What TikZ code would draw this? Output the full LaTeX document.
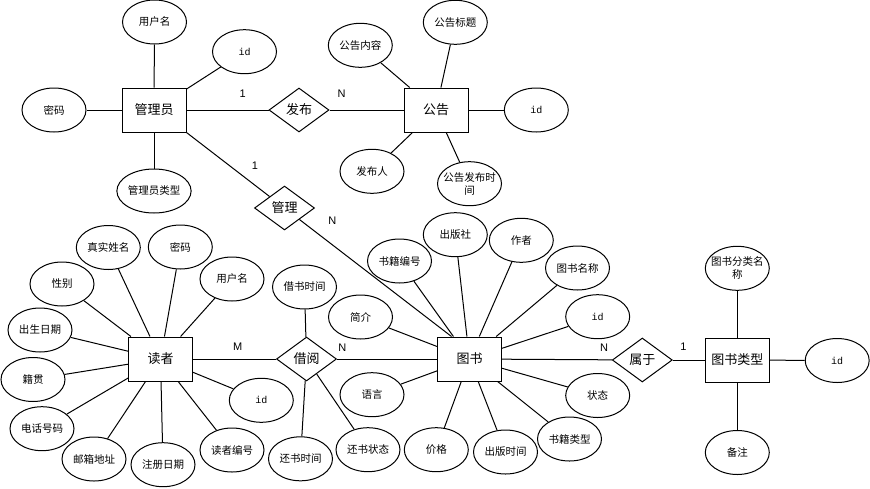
\documentclass[tikz,border=0pt]{standalone}
\usepackage{fontspec}
\setmainfont{Liberation Sans}
\newfontfamily\cjk{Noto Sans CJK SC}
\newfontfamily\monofnt{Liberation Mono}
\usetikzlibrary{shapes.geometric}
\tikzset{
  ent/.style={draw, rectangle, minimum width=64pt, minimum height=44pt, inner sep=0pt, line width=1pt, font=\cjk\fontsize{13}{15}\selectfont},
  rel/.style={draw, diamond, minimum width=60pt, minimum height=44pt, inner sep=0pt, line width=1pt, font=\cjk\fontsize{13}{15}\selectfont},
  attr/.style={draw, ellipse, minimum width=64pt, minimum height=44pt, inner sep=0pt, line width=1pt, font=\cjk\fontsize{10.5}{12}\selectfont},
  idattr/.style={attr, font=\monofnt\fontsize{10}{12}\selectfont},
  txt/.style={inner sep=0pt, align=center, font=\cjk\fontsize{10.5}{13}\selectfont},
  card/.style={inner sep=0pt, font=\fontsize{11}{13}\selectfont},
  lnk/.style={line width=1pt}
}
\begin{document}
\begin{tikzpicture}[x=1pt,y=-1pt]
\useasboundingbox (0,0) rectangle (870,488);
% admin
\node[ent] (gly) at (154,110) {管理员};
\node[attr] (a1) at (154.5,22) {用户名};
\node[idattr] (a2) at (244.5,51.7) {id};
\node[attr] (a3) at (54,110) {密码};
\node[attr] (a4) at (154,191) {管理员类型};
% notice
\node[ent] (gg) at (436,110) {公告};
\node[attr] (b1) at (455.3,22.3) {公告标题};
\node[attr] (b2) at (360.3,45.3) {公告内容};
\node[idattr] (b3) at (536.3,110) {id};
\node[attr] (b4) at (372,171.3) {发布人};
\node[attr] (b5) at (469.5,183.7) {};
\node[txt] (b5t) at (b5) {公告发布时\\间};
% relations
\node[rel] (fb) at (299,110) {发布};
\node[rel] (gl) at (284.5,208) {管理};
% reader
\node[ent] (dz) at (160.5,359) {读者};
\node[attr] (c1) at (108.3,247.5) {真实姓名};
\node[attr] (c2) at (180.3,247) {密码};
\node[attr] (c3) at (62,284) {性别};
\node[attr] (c4) at (232,279) {用户名};
\node[attr] (c5) at (40,330) {出生日期};
\node[attr] (c6) at (33,379.5) {籍贯};
\node[attr] (c7) at (42,428.7) {电话号码};
\node[attr] (c8) at (94,459) {邮箱地址};
\node[attr] (c9) at (163,464.7) {注册日期};
\node[attr] (c10) at (232,450) {读者编号};
\node[idattr] (c11) at (261.3,400.3) {id};
% borrow
\node[rel] (jy) at (306.5,359) {借阅};
\node[attr] (d1) at (304.5,287) {借书时间};
\node[attr] (d2) at (300.5,458.8) {还书时间};
\node[attr] (d3) at (368,449.7) {还书状态};
% book
\node[ent] (ts) at (469.5,359) {图书};
\node[attr] (e1) at (399.5,261) {书籍编号};
\node[attr] (e2) at (455.3,234.7) {出版社};
\node[attr] (e3) at (521.3,240.3) {作者};
\node[attr] (e4) at (577.5,268) {图书名称};
\node[idattr] (e5) at (597.7,316.7) {id};
\node[attr] (e6) at (360.5,317) {简介};
\node[attr] (e7) at (372,394.7) {语言};
\node[attr] (e8) at (436.3,449.7) {价格};
\node[attr] (e9) at (505.5,452) {出版时间};
\node[attr] (e10) at (569.5,439) {书籍类型};
\node[attr] (e11) at (597.7,395.5) {状态};
% category
\node[rel] (sy) at (642.3,360) {属于};
\node[ent] (lx) at (737.3,360) {图书类型};
\node[attr] (f1) at (737.3,268.3) {};
\node[txt] (f1t) at (f1) {图书分类名\\称};
\node[idattr] (f2) at (837.2,360.5) {id};
\node[attr] (f3) at (737.3,452.5) {备注};
% links
\foreach \a in {a1,a2,a3,a4} \draw[lnk] (gly) -- (\a);
\foreach \a in {b1,b2,b3,b4,b5} \draw[lnk] (gg) -- (\a);
\foreach \a in {c1,c2,c3,c4,c5,c6,c7,c8,c9,c10,c11} \draw[lnk] (dz) -- (\a);
\foreach \a in {d1,d2,d3} \draw[lnk] (jy) -- (\a);
\foreach \a in {e1,e2,e3,e4,e5,e6,e7,e8,e9,e10,e11} \draw[lnk] (ts) -- (\a);
\foreach \a in {f1,f2,f3} \draw[lnk] (lx) -- (\a);
\draw[lnk] (gly) -- (fb);
\draw[lnk] (fb) -- (gg);
\draw[lnk] (gly.south east) -- (gl);
\draw[lnk] (gl) -- ([xshift=14.5pt]ts.north west);
\draw[lnk] (dz) -- (jy);
\draw[lnk] (jy) -- (ts);
\draw[lnk] (ts) -- (sy);
\draw[lnk] (sy) -- (lx);
% cardinalities
\node[card] (k1) at (242.7,93.3) {1};
\node[card] (k2) at (341.7,93.3) {N};
\node[card] (k3) at (255,165.7) {1};
\node[card] (k4) at (332.3,221) {N};
\node[card] (k5) at (237.7,346.7) {M};
\node[card] (k6) at (342.3,347.7) {N};
\node[card] (k7) at (604,347.7) {N};
\node[card] (k8) at (683.3,346.7) {1};
\end{tikzpicture}
\end{document}
